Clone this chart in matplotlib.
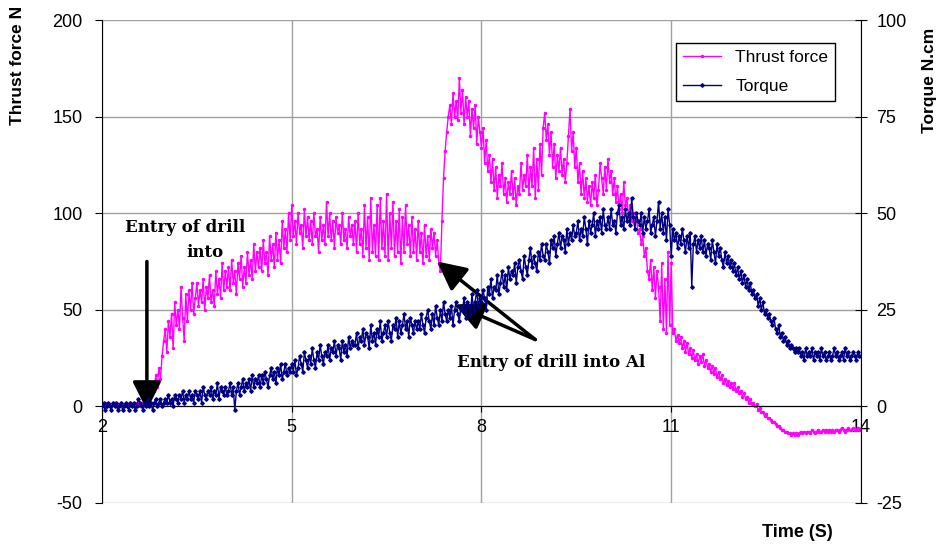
import numpy as np
import matplotlib.pyplot as plt

plt.rcParams['font.family'] = ['Liberation Sans', 'DejaVu Sans']
plt.rcParams['axes.unicode_minus'] = False

# time base, 0.025 s steps from 2 to 14 s
time = np.linspace(2, 14, 481)

# thrust force [N], one row per half second
thrust = [
    1, 0, 2, 0, 1, 1, 0, 2, 1, 0, 1, 0, 2, 1, 0, 1, 1, 0, 2, 1,
    0, 1, 2, 1, 0, 1, 2, 1, 3, 2, 4, 6, 12, 8, 16, 10, 20, 14, 26, 34,
    40, 28, 44, 36, 48, 30, 54, 42, 50, 40, 62, 46, 34, 58, 44, 60, 50, 64, 48, 56,
    64, 52, 60, 54, 66, 50, 62, 56, 68, 54, 60, 52, 70, 58, 66, 56, 74, 60, 70, 62,
    72, 60, 76, 64, 70, 58, 74, 66, 78, 62, 72, 64, 80, 68, 76, 66, 84, 70, 80, 72,
    82, 70, 86, 74, 80, 68, 88, 76, 84, 72, 90, 76, 86, 74, 96, 82, 92, 80, 100, 86,
    104, 88, 96, 84, 100, 90, 94, 82, 102, 88, 98, 86, 96, 84, 100, 88, 92, 80, 98, 86,
    94, 84, 106, 88, 100, 86, 96, 82, 98, 90, 94, 84, 100, 86, 92, 82, 98, 88, 94, 84,
    96, 80, 100, 84, 92, 78, 104, 82, 98, 76, 108, 80, 94, 78, 104, 76, 108, 82, 96, 78,
    110, 76, 100, 82, 106, 78, 96, 80, 102, 74, 98, 80, 104, 84, 94, 78, 98, 80, 92, 76,
    96, 80, 90, 74, 94, 78, 88, 76, 92, 82, 90, 78, 86, 74, 70, 96, 118, 132, 142, 150,
    156, 146, 162, 150, 158, 148, 170, 152, 164, 146, 160, 150, 158, 140, 154, 144, 156, 136, 150, 142,
    134, 144, 126, 138, 122, 130, 116, 128, 112, 124, 108, 120, 114, 126, 110, 118, 106, 116, 110, 122,
    108, 118, 104, 114, 110, 126, 112, 120, 114, 130, 110, 124, 114, 134, 108, 128, 112, 136, 120, 144,
    152, 138, 146, 130, 142, 124, 136, 118, 130, 122, 134, 120, 128, 116, 126, 140, 154, 132, 142, 124,
    134, 116, 126, 110, 122, 108, 118, 106, 114, 104, 116, 108, 120, 104, 112, 126, 118, 110, 124, 112,
    128, 116, 122, 110, 118, 106, 114, 102, 110, 100, 116, 104, 108, 98, 104, 96, 100, 92, 98, 90,
    92, 84, 88, 78, 82, 70, 66, 76, 60, 72, 56, 70, 62, 44, 74, 40, 66, 38, 80, 42,
    74, 38, 40, 34, 37, 33, 36, 30, 34, 28, 33, 27, 30, 25, 29, 24, 27, 22, 26, 23,
    27, 21, 24, 20, 22, 18, 21, 17, 20, 15, 18, 14, 16, 12, 14, 11, 13, 10, 12, 9,
    12, 8, 10, 7, 8, 5, 7, 4, 5, 2, 4, 1, 2, 0, 1, -2, -1, -3, -3, -5,
    -4, -6, -6, -7, -8, -8, -9, -10, -10, -11, -12, -12, -13, -13, -14, -14, -15, -14, -15, -14,
    -15, -14, -13, -14, -13, -14, -13, -13, -14, -12, -13, -14, -13, -12, -13, -13, -12, -13, -12, -13,
    -12, -13, -12, -13, -12, -12, -13, -12, -11, -12, -13, -12, -11, -12, -12, -11, -12, -12, -11, -12,
    -12,
]

# torque [N.cm]
torque = [
    0, 1, -1, 0, 1, 0, -1, 1, 0, 1, -1, 0, 1, -1, 0, 1, 0, -1, 1, 0,
    1, -1, 0, 2, 1, 0, -1, 1, 0, 2, 0, 1, -1, 1, 2, 0, 1, 2, 0, 1,
    2, 1, 3, 1, 2, 0, 3, 2, 1, 3, 2, 4, 1, 3, 2, 4, 2, 3, 1, 4,
    3, 2, 4, 1, 5, 3, 2, 4, 3, 5, 2, 4, 3, 6, 2, 5, 4, 3, 5, 3,
    4, 6, 3, 5, -1, 4, 6, 3, 5, 7, 4, 6, 5, 7, 4, 8, 5, 7, 6, 8,
    5, 8, 6, 9, 7, 5, 8, 10, 7, 9, 6, 10, 8, 11, 7, 9, 11, 8, 10, 9,
    11, 9, 12, 8, 10, 13, 11, 9, 14, 12, 10, 13, 11, 15, 12, 10, 14, 12, 16, 13,
    11, 14, 13, 16, 12, 15, 14, 17, 13, 16, 15, 12, 17, 14, 16, 13, 18, 15, 17, 16,
    16, 19, 15, 18, 17, 20, 16, 19, 18, 15, 21, 17, 19, 16, 20, 18, 22, 17, 19, 21,
    18, 22, 19, 17, 21, 20, 23, 18, 22, 19, 21, 24, 20, 22, 18, 23, 21, 19, 22, 20,
    22, 20, 24, 21, 19, 23, 25, 22, 20, 24, 21, 26, 23, 21, 25, 22, 27, 24, 22, 25,
    23, 26, 21, 25, 27, 24, 22, 26, 25, 28, 23, 27, 26, 24, 29, 25, 27, 30, 26, 28,
    27, 30, 28, 25, 31, 29, 33, 28, 31, 30, 34, 29, 32, 35, 31, 34, 30, 36, 33, 35,
    34, 37, 32, 36, 38, 35, 33, 39, 36, 34, 38, 41, 36, 39, 37, 35, 40, 38, 42, 39,
    38, 42, 40, 37, 43, 41, 44, 39, 42, 45, 41, 44, 43, 40, 46, 42, 45, 43, 47, 44,
    45, 48, 43, 46, 44, 49, 46, 42, 48, 45, 47, 50, 44, 48, 46, 49, 45, 51, 47, 46,
    49, 46, 51, 47, 48, 45, 50, 52, 47, 49, 46, 51, 48, 50, 47, 54, 49, 46, 50, 48,
    47, 50, 45, 49, 46, 48, 51, 45, 47, 49, 44, 48, 53, 46, 50, 45, 49, 43, 51, 47,
    39, 46, 43, 45, 41, 44, 42, 46, 43, 40, 44, 41, 45, 31, 42, 44, 40, 43, 41, 44,
    40, 43, 39, 42, 41, 38, 43, 40, 37, 42, 39, 41, 38, 36, 40, 37, 39, 36, 38, 35,
    37, 34, 36, 33, 35, 32, 34, 31, 33, 30, 32, 29, 30, 28, 29, 26, 28, 25, 27, 24,
    25, 23, 24, 22, 21, 23, 20, 19, 21, 18, 19, 17, 18, 16, 17, 15, 16, 15, 14, 15,
    14, 15, 13, 14, 12, 15, 13, 14, 13, 15, 12, 14, 13, 14, 12, 15, 13, 14, 12, 13,
    14, 12, 13, 15, 13, 14, 12, 13, 14, 12, 15, 13, 14, 12, 13, 14, 13, 12, 14, 13,
    13,
]

fig = plt.figure(figsize=(9.46, 5.44), dpi=100)
ax = fig.add_axes([0.1078, 0.0754, 0.8023, 0.8878])
ax2 = ax.twinx()

ax.plot(time, thrust, color='#ff00ff', lw=1, marker='.', ms=3, label='Thrust force')
ax2.plot(time, torque, color='#000080', lw=1, marker='D', ms=1.8, label='Torque')

ax.set_xlim(2, 14)
ax.set_ylim(-50, 200)
ax2.set_ylim(-25, 100)
ax.set_xticks([2, 5, 8, 11, 14])
ax.set_yticks(np.arange(-50, 201, 50))
ax2.set_yticks(np.arange(-25, 101, 25))

ax.grid(True, color='#a0a0a0', lw=1)
ax.set_axisbelow(True)

ax.spines['bottom'].set_position(('data', 0))
ax.spines['top'].set_visible(False)
ax.spines['right'].set_visible(False)
for s in ['top', 'bottom', 'left']:
    ax2.spines[s].set_visible(False)
ax.spines['left'].set_color('k')
ax2.spines['right'].set_color('k')

ax.tick_params(axis='y', direction='out', length=5, labelsize=13, pad=9)
ax.tick_params(axis='x', direction='out', length=4, labelsize=13, pad=5)
ax2.tick_params(axis='y', direction='inout', length=8, labelsize=13, pad=7)

fig.text(0.019, 0.88, 'Thrust force N', rotation=90, fontsize=12.5, fontweight='bold',
         ha='center', va='center')
fig.text(0.983, 0.853, 'Torque N.cm', rotation=90, fontsize=12.5, fontweight='bold',
         ha='center', va='center')
fig.text(0.843, 0.022, 'Time (S)', fontsize=13, fontweight='bold', ha='center', va='center')

h1, l1 = ax.get_legend_handles_labels()
h2, l2 = ax2.get_legend_handles_labels()
leg = ax2.legend(h1 + h2, l1 + l2, loc='upper right', bbox_to_anchor=(0.966, 0.952),
                 fontsize=12.5, fancybox=False, edgecolor='k', framealpha=1,
                 handlelength=2.2, labelspacing=0.8, borderaxespad=0)
leg.get_frame().set_linewidth(1)

# annotations
ann_font = dict(family='DejaVu Serif', fontweight='bold', fontsize=12)
ax.text(3.31, 92.6, 'Entry of drill', ha='center', va='center', **ann_font)
ax.text(3.63, 79.6, 'into', ha='center', va='center', **ann_font)
arrow = dict(arrowstyle='-|>,head_length=0.8,head_width=0.4', lw=2.5,
             color='k', shrinkA=0, shrinkB=0, mutation_scale=22)
ax.annotate('', xy=(2.71, -2), xytext=(2.71, 75), arrowprops=arrow)
ax.text(9.1, 22.7, 'Entry of drill into Al', ha='center', va='center', **ann_font)
for tip in [(7.30, 75), (7.58, 52.7)]:
    ax.annotate('', xy=tip, xytext=(8.85, 34.6), arrowprops=arrow)

plt.savefig('out.png', dpi=100)
